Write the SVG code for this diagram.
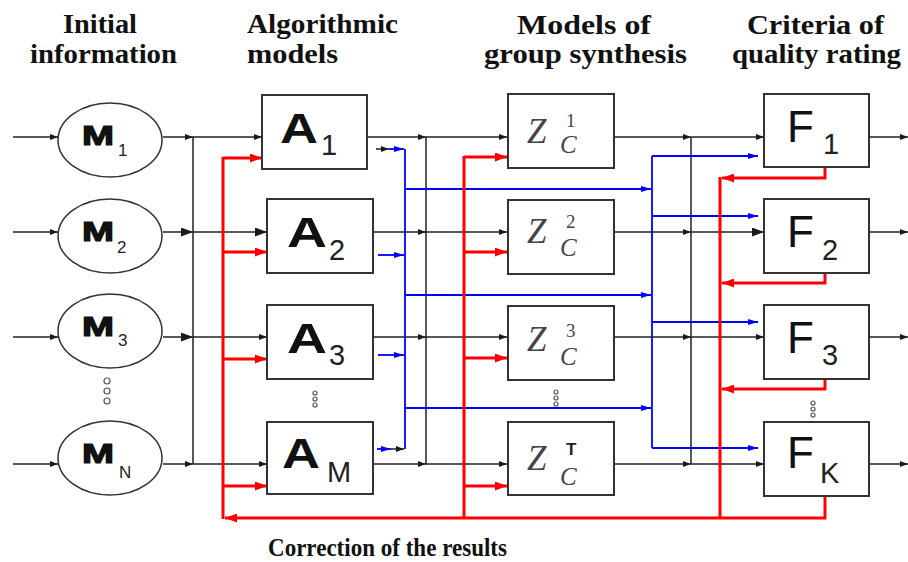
<svg xmlns="http://www.w3.org/2000/svg" width="908" height="562" viewBox="0 0 908 562">
<defs>
<marker id="ak" viewBox="0 0 8 6" refX="8" refY="3" markerWidth="8" markerHeight="6" orient="auto" markerUnits="userSpaceOnUse"><path d="M0,0L8,3L0,6z" fill="#1a1a1a"/></marker>
<marker id="akL" viewBox="0 0 12 9" refX="12" refY="4.5" markerWidth="12" markerHeight="9" orient="auto" markerUnits="userSpaceOnUse"><path d="M0,0L12,4.5L0,9z" fill="#1a1a1a"/></marker>
<marker id="ar" viewBox="0 0 12 9" refX="12" refY="4.5" markerWidth="12" markerHeight="9" orient="auto" markerUnits="userSpaceOnUse"><path d="M0,0L12,4.5L0,9z" fill="#ff0000"/></marker>
<marker id="ab" viewBox="0 0 10 6" refX="10" refY="3" markerWidth="10" markerHeight="6" orient="auto" markerUnits="userSpaceOnUse"><path d="M0,0L10,3L0,6z" fill="#0000ff"/></marker>
</defs>
<style>
.hd{font-family:"Liberation Serif",serif;font-weight:bold;font-size:28px;fill:#111}
.ft{font-family:"Liberation Serif",serif;font-weight:bold;font-size:26px;fill:#111}
.k{stroke:#222;stroke-width:1.5;fill:none}
.r{stroke:#ff0000;stroke-width:3;fill:none}
.b{stroke:#0000ff;stroke-width:1.8;fill:none}
.box{fill:#fff;stroke:#333;stroke-width:2}
.ell{fill:#fff;stroke:#333;stroke-width:1.5}
.mt{font-family:"Liberation Sans",Arial,sans-serif;font-weight:bold;font-size:27px;fill:#111;stroke:#111;stroke-width:1.2}
.ms{font-family:"Liberation Sans",Arial,sans-serif;font-size:17px;fill:#222}
.at{font-family:"Liberation Sans",Arial,sans-serif;font-weight:bold;font-size:43px;fill:#111}
.ft2{font-family:"Liberation Sans",Arial,sans-serif;font-size:44px;fill:#111}
.sub{font-family:"Liberation Sans",Arial,sans-serif;font-size:29px;fill:#222}
.zt{font-family:"Liberation Serif",serif;font-style:italic;font-size:35px;fill:#444}
.zs{font-family:"Liberation Serif",serif;font-size:19px;fill:#444}
.zc{font-family:"Liberation Serif",serif;font-style:italic;font-size:25px;fill:#444}
.dot{fill:#fff;stroke:#555;stroke-width:1.2}
</style>
<rect width="908" height="562" fill="#fff"/>

<g id="headers">
<text class="hd" x="63" y="33" textLength="74" lengthAdjust="spacingAndGlyphs">Initial</text>
<text class="hd" x="30" y="63" textLength="147" lengthAdjust="spacingAndGlyphs">information</text>
<text class="hd" x="247" y="33" textLength="151" lengthAdjust="spacingAndGlyphs">Algorithmic</text>
<text class="hd" x="247" y="63" textLength="91" lengthAdjust="spacingAndGlyphs">models</text>
<text class="hd" x="517" y="34" textLength="134" lengthAdjust="spacingAndGlyphs">Models of</text>
<text class="hd" x="484" y="63" textLength="203" lengthAdjust="spacingAndGlyphs">group synthesis</text>
<text class="hd" x="747" y="34" textLength="137" lengthAdjust="spacingAndGlyphs">Criteria of</text>
<text class="hd" x="732" y="63" textLength="169" lengthAdjust="spacingAndGlyphs">quality rating</text>
</g>

<g id="connectors">
<line class="k" x1="13" y1="137" x2="58" y2="137" marker-end="url(#ak)"/>
<line class="k" x1="13" y1="232" x2="58" y2="232" marker-end="url(#ak)"/>
<line class="k" x1="13" y1="337" x2="58" y2="337" marker-end="url(#ak)"/>
<line class="k" x1="13" y1="464" x2="58" y2="464" marker-end="url(#ak)"/>
<line class="k" x1="163" y1="137" x2="193" y2="137" marker-end="url(#ak)"/>
<line class="k" x1="163" y1="232" x2="193" y2="232" marker-end="url(#akL)"/>
<line class="k" x1="163" y1="337" x2="193" y2="337" marker-end="url(#akL)"/>
<line class="k" x1="163" y1="464" x2="193" y2="464" marker-end="url(#ak)"/>
<line class="k" x1="193" y1="137" x2="193" y2="464"/>
<line class="k" x1="193" y1="137" x2="262" y2="137" marker-end="url(#ak)"/>
<line class="k" x1="193" y1="232" x2="267" y2="232" marker-end="url(#akL)"/>
<line class="k" x1="193" y1="337" x2="267" y2="337" marker-end="url(#ak)"/>
<line class="k" x1="193" y1="464" x2="267" y2="464" marker-end="url(#ak)"/>
<line class="k" x1="367" y1="137" x2="426" y2="137" marker-end="url(#ak)"/>
<line class="k" x1="373" y1="232" x2="426" y2="232" marker-end="url(#ak)"/>
<line class="k" x1="373" y1="337" x2="426" y2="337" marker-end="url(#ak)"/>
<line class="k" x1="373" y1="464" x2="426" y2="464" marker-end="url(#ak)"/>
<line class="k" x1="426" y1="137" x2="426" y2="464"/>
<line class="k" x1="426" y1="137" x2="507" y2="137" marker-end="url(#ak)"/>
<line class="k" x1="426" y1="232" x2="507" y2="232" marker-end="url(#ak)"/>
<line class="k" x1="426" y1="337" x2="507" y2="337" marker-end="url(#ak)"/>
<line class="k" x1="426" y1="464" x2="507" y2="464" marker-end="url(#ak)"/>
<line class="k" x1="614" y1="137" x2="691" y2="137" marker-end="url(#ak)"/>
<line class="k" x1="614" y1="232" x2="691" y2="232" marker-end="url(#ak)"/>
<line class="k" x1="614" y1="337" x2="691" y2="337" marker-end="url(#ak)"/>
<line class="k" x1="614" y1="464" x2="691" y2="464" marker-end="url(#ak)"/>
<line class="k" x1="691" y1="137" x2="691" y2="464"/>
<line class="k" x1="691" y1="137" x2="764" y2="137" marker-end="url(#ak)"/>
<line class="k" x1="691" y1="232" x2="764" y2="232" marker-end="url(#akL)"/>
<line class="k" x1="691" y1="337" x2="764" y2="337" marker-end="url(#ak)"/>
<line class="k" x1="691" y1="464" x2="764" y2="464" marker-end="url(#ak)"/>
<line class="k" x1="869" y1="137" x2="908" y2="137" marker-end="url(#ak)"/>
<line class="k" x1="869" y1="232" x2="908" y2="232" marker-end="url(#ak)"/>
<line class="k" x1="869" y1="337" x2="908" y2="337" marker-end="url(#ak)"/>
<line class="k" x1="869" y1="464" x2="908" y2="464" marker-end="url(#ak)"/>
<line class="k" x1="376" y1="149" x2="389" y2="149" marker-end="url(#ak)"/>
<line class="b" x1="389" y1="149" x2="404" y2="149" marker-end="url(#ab)"/>
<line class="b" x1="378" y1="255" x2="404" y2="255" marker-end="url(#ab)"/>
<line class="b" x1="378" y1="355" x2="404" y2="355" marker-end="url(#ab)"/>
<line class="b" x1="377" y1="449" x2="391" y2="449" marker-end="url(#ab)"/>
<line class="k" x1="391" y1="449" x2="404" y2="449" marker-end="url(#ak)"/>
<line class="b" x1="405" y1="149" x2="405" y2="449"/>
<line class="b" x1="405" y1="189" x2="651" y2="189" marker-end="url(#ab)"/>
<line class="b" x1="405" y1="295" x2="651" y2="295" marker-end="url(#ab)"/>
<line class="b" x1="405" y1="408" x2="651" y2="408" marker-end="url(#ab)"/>
<line class="b" x1="652" y1="156" x2="652" y2="448"/>
<line class="b" x1="652" y1="156" x2="758" y2="156" marker-end="url(#ab)"/>
<line class="b" x1="652" y1="216" x2="758" y2="216" marker-end="url(#ab)"/>
<line class="b" x1="652" y1="322" x2="758" y2="322" marker-end="url(#ab)"/>
<line class="b" x1="652" y1="448" x2="758" y2="448" marker-end="url(#ab)"/>
<line class="r" x1="223" y1="157" x2="223" y2="519"/>
<line class="r" x1="223" y1="158" x2="262" y2="158" marker-end="url(#ar)"/>
<line class="r" x1="223" y1="252" x2="267" y2="252" marker-end="url(#ar)"/>
<line class="r" x1="223" y1="359" x2="267" y2="359" marker-end="url(#ar)"/>
<line class="r" x1="223" y1="486" x2="267" y2="486" marker-end="url(#ar)"/>
<line class="r" x1="464" y1="156" x2="464" y2="518"/>
<line class="r" x1="464" y1="157" x2="507" y2="157" marker-end="url(#ar)"/>
<line class="r" x1="464" y1="252" x2="507" y2="252" marker-end="url(#ar)"/>
<line class="r" x1="464" y1="358" x2="507" y2="358" marker-end="url(#ar)"/>
<line class="r" x1="464" y1="486" x2="507" y2="486" marker-end="url(#ar)"/>
<line class="r" x1="720" y1="177" x2="720" y2="518"/>
<path class="r" d="M825,167V178H722" marker-end="url(#ar)"/>
<path class="r" d="M825,273V283H722" marker-end="url(#ar)"/>
<path class="r" d="M825,379V389H722" marker-end="url(#ar)"/>
<path class="r" d="M825,496V518H225" marker-end="url(#ar)"/>
</g>

<g id="M1"><ellipse class="ell" cx="110" cy="140" rx="52" ry="37"/><text class="mt" x="82" y="145" textLength="32" lengthAdjust="spacingAndGlyphs">M</text><text class="ms" x="118" y="156">1</text></g>
<g id="M2"><ellipse class="ell" cx="110" cy="236" rx="52" ry="37"/><text class="mt" x="82" y="241" textLength="32" lengthAdjust="spacingAndGlyphs">M</text><text class="ms" x="117" y="253">2</text></g>
<g id="M3"><ellipse class="ell" cx="110" cy="331" rx="52" ry="37"/><text class="mt" x="82" y="336" textLength="32" lengthAdjust="spacingAndGlyphs">M</text><text class="ms" x="118" y="346" font-size="19">3</text></g>
<g id="MN"><ellipse class="ell" cx="110" cy="458" rx="52" ry="37"/><text class="mt" x="82" y="463" textLength="32" lengthAdjust="spacingAndGlyphs">M</text><text class="ms" x="119" y="478" font-size="20">N</text></g>
<g id="Mdots"><circle class="dot" cx="107" cy="381" r="3"/><circle class="dot" cx="107" cy="391" r="3"/><circle class="dot" cx="107" cy="401" r="3"/></g>

<g id="A1"><rect class="box" x="262" y="95" width="105" height="74"/><text class="at" x="280" y="143" textLength="38" lengthAdjust="spacingAndGlyphs">A</text><text class="sub" x="321" y="155">1</text></g>
<g id="A2"><rect class="box" x="267" y="199" width="106" height="74"/><text class="at" x="287" y="247" textLength="40" lengthAdjust="spacingAndGlyphs">A</text><text class="sub" x="329" y="260">2</text></g>
<g id="A3"><rect class="box" x="267" y="305" width="106" height="74"/><text class="at" x="287" y="353" textLength="40" lengthAdjust="spacingAndGlyphs">A</text><text class="sub" x="329" y="365">3</text></g>
<g id="AM"><rect class="box" x="267" y="422" width="106" height="72"/><text class="at" x="282" y="468" textLength="38" lengthAdjust="spacingAndGlyphs">A</text><text class="sub" x="327" y="482" font-size="23" fill="#444">M</text></g>
<g id="Adots"><circle class="dot" cx="315" cy="393" r="2"/><circle class="dot" cx="315" cy="399" r="2"/><circle class="dot" cx="315" cy="405" r="2"/></g>

<g id="Z1"><rect class="box" x="508" y="94" width="106" height="74"/><text class="zt" x="527" y="143">Z</text><text class="zs" x="566" y="127">1</text><text class="zc" x="560" y="153">C</text></g>
<g id="Z2"><rect class="box" x="508" y="200" width="106" height="74"/><text class="zt" x="527" y="243">Z</text><text class="zs" x="566" y="228">2</text><text class="zc" x="560" y="256">C</text></g>
<g id="Z3"><rect class="box" x="508" y="306" width="106" height="74"/><text class="zt" x="527" y="351">Z</text><text class="zs" x="566" y="337">3</text><text class="zc" x="560" y="365">C</text></g>
<g id="ZT"><rect class="box" x="508" y="422" width="106" height="73"/><text class="zt" x="527" y="470">Z</text><text class="ms" x="566" y="455" font-size="18" font-weight="bold">T</text><text class="zc" x="560" y="485">C</text></g>
<g id="Zdots"><circle class="dot" cx="556" cy="392" r="2"/><circle class="dot" cx="556" cy="398" r="2"/><circle class="dot" cx="556" cy="404" r="2"/></g>

<g id="F1"><rect class="box" x="764" y="94" width="105" height="73"/><text class="ft2" x="787" y="142">F</text><text class="sub" x="823" y="154">1</text></g>
<g id="F2"><rect class="box" x="764" y="199" width="105" height="74"/><text class="ft2" x="787" y="247">F</text><text class="sub" x="822" y="260">2</text></g>
<g id="F3"><rect class="box" x="764" y="305" width="105" height="74"/><text class="ft2" x="787" y="353">F</text><text class="sub" x="822" y="365">3</text></g>
<g id="FK"><rect class="box" x="764" y="422" width="105" height="74"/><text class="ft2" x="787" y="468">F</text><text class="sub" x="820" y="483">K</text></g>
<g id="Fdots"><circle class="dot" cx="813" cy="403" r="2"/><circle class="dot" cx="813" cy="409" r="2"/><circle class="dot" cx="813" cy="415" r="2"/></g>

<text class="ft" x="268" y="556" textLength="239" lengthAdjust="spacingAndGlyphs">Correction of the results</text>
</svg>
